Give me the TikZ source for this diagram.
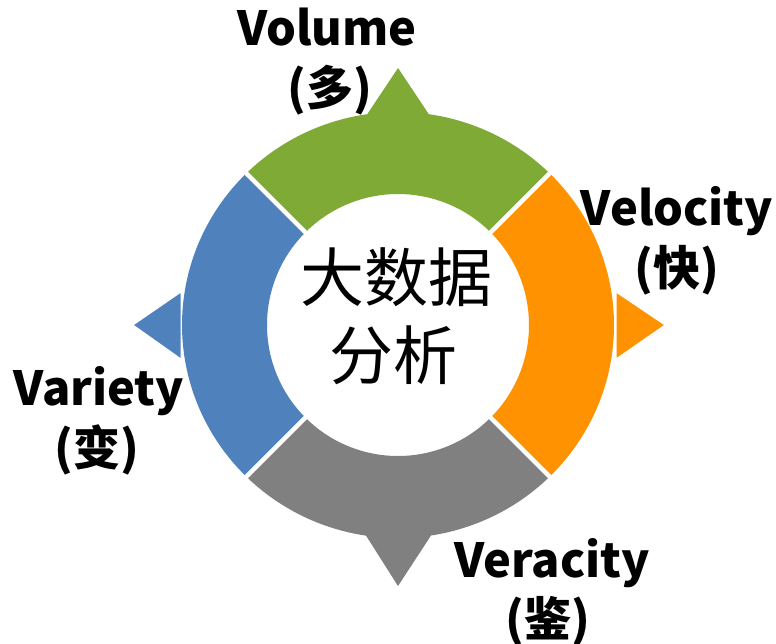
\documentclass[tikz,border=0pt]{standalone}
\usepackage{fontspec}
\newfontfamily\cjk{Noto Sans CJK SC}
\definecolor{cgreen}{RGB}{128,170,54}
\definecolor{cblue}{RGB}{79,129,189}
\definecolor{corange}{RGB}{255,146,0}
\definecolor{cgray}{RGB}{128,128,128}
\def\cx{398}\def\cy{325}\def\rox{216}\def\roy{213}\def\ri{131}
\tikzset{
  lab/.style={anchor=base, inner sep=0pt, font=\cjk\bfseries\fontsize{47}{55}\selectfont},
  ctr/.style={anchor=center, inner sep=0pt, font=\cjk\fontsize{64}{76}\selectfont},
  gapline/.style={white, line width=4.5pt},
}
\newcommand{\seg}[3]{%
  \fill[#3] plot[domain=#1:#2, samples=80] ({\cx+\rox*cos(\x)},{\cy-\roy*sin(\x)})
    -- plot[domain=#2:#1, samples=80] ({\cx+\ri*cos(\x)},{\cy-\ri*sin(\x)}) -- cycle;}
\begin{document}
\begin{tikzpicture}[x=1pt,y=-1pt]
\useasboundingbox (0,0) rectangle (776,643);
% ring segments
\seg{45}{135}{cgreen}
\seg{135}{225}{cblue}
\seg{225}{315}{cgray}
\seg{-45}{45}{corange}
% pointers
\fill[cgreen] (366,116) -- (398,68) -- (430,116) -- cycle;
\fill[cgray] (365,534) -- (398,586) -- (432,534) -- cycle;
\fill[cblue, draw=white, line width=1pt] (181,292) -- (133,325) -- (181,359) -- cycle;
\fill[corange, draw=white, line width=1pt] (616,292) -- (665,325) -- (616,359) -- cycle;
% gaps
\foreach \a in {45,135,225,315}
  \draw[gapline] ({\cx+120*cos(\a)},{\cy-120*sin(\a)}) -- ({\cx+230*cos(\a)},{\cy-230*sin(\a)});
% centre text
\node[ctr] (c1) at (396,277) {大数据};
\node[ctr] (c2) at (393,355) {分析};
% labels
\node[lab] (vo1) at (327,45) {Volume};
\node[lab] (vo2) at (330,105) {(多)};
\node[lab] (ve1) at (677,225) {Velocity};
\node[lab] (ve2) at (677,285) {(快)};
\node[lab] (va1) at (99,405) {Variety};
\node[lab] (va2) at (97,465) {(变)};
\node[lab] (vr1) at (552,577) {Veracity};
\node[lab] (vr2) at (548,636) {(鉴)};
\end{tikzpicture}
\end{document}
